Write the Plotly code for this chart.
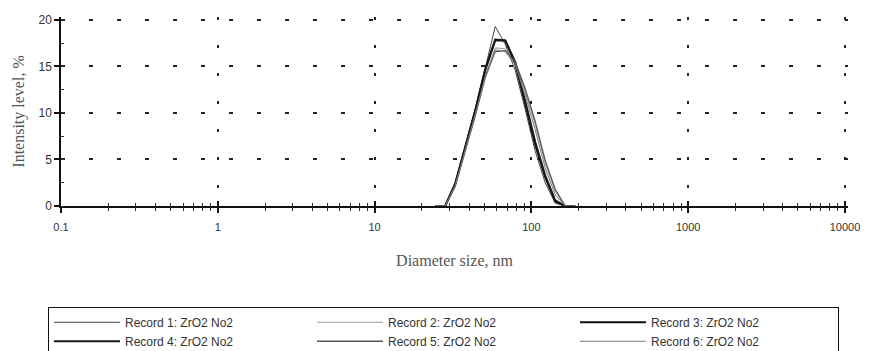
import plotly.graph_objects as go

# Size bins (nm) of the Zetasizer distribution around the peak
sizes = [24.36, 28.21, 32.67, 37.84, 43.82, 50.75, 58.77, 68.06, 78.82,
         91.28, 105.7, 122.4, 141.8, 164.2, 190.1]

# Intensity (%) for each record
record1 = [0, 0, 2.4, 6.5, 10.3, 14.8, 19.3, 17.4, 14.6, 10.4, 5.9, 2.5, 0.3, 0, 0]
record2 = [0, 0, 2.2, 6.1, 9.9, 14.0, 17.0, 16.9, 15.4, 12.3, 8.8, 4.6, 1.6, 0, 0]
record3 = [0, 0, 2.4, 6.4, 10.3, 14.7, 17.9, 17.8, 15.3, 11.0, 6.6, 3.1, 0.5, 0, 0]
record4 = [0, 0, 2.4, 6.3, 10.2, 14.6, 17.8, 17.8, 15.5, 11.3, 6.9, 3.3, 0.6, 0, 0]
record5 = [0, 0, 2.1, 5.9, 9.7, 13.8, 16.6, 16.7, 15.5, 12.6, 9.1, 4.9, 1.8, 0, 0]
record6 = [0, 0, 2.2, 6.0, 9.8, 13.9, 16.8, 16.6, 15.2, 11.9, 8.2, 4.1, 1.2, 0, 0]

names = ["Record 1: ZrO2 No2", "Record 2: ZrO2 No2", "Record 3: ZrO2 No2",
         "Record 4: ZrO2 No2", "Record 5: ZrO2 No2", "Record 6: ZrO2 No2"]
series = [record1, record2, record3, record4, record5, record6]

x_tickvals = [0.1, 1, 10, 100, 1000, 10000]
x_ticktext = ["0.1", "1", "10", "100", "1000", "10000"]
y_tickvals = [0, 5, 10, 15, 20]

colors = ["#444444", "#9a9a9a", "#111111", "#1a1a1a", "#555555", "#7a7a7a"]
widths = [1, 1, 2, 2, 1.3, 1]

fig = go.Figure()
for n, s, c, w in zip(names, series, colors, widths):
    fig.add_trace(go.Scatter(x=sizes, y=s, mode="lines", name=n,
                             line=dict(color=c, width=w)))

# empty helper trace so the overlaid tick axis (crossing ticks) is rendered
fig.add_trace(go.Scatter(x=[None], y=[None], xaxis="x2", yaxis="y",
                         showlegend=False, hoverinfo="skip", mode="lines"))

minor_x = [m * d for d in [0.1, 1, 10, 100, 1000] for m in range(2, 10)]

tick_font = dict(family="Liberation Sans, Arial, sans-serif", size=11, color="#333333")
title_font = dict(family="Liberation Serif, Times New Roman, serif", size=16, color="#555555")

fig.update_layout(
    width=872, height=351,
    margin=dict(l=61, r=19, t=17, b=145),
    paper_bgcolor="white", plot_bgcolor="white",
    showlegend=True,
    legend=dict(
        orientation="h",
        xref="container", yref="container",
        x=0.055, y=0.126, xanchor="left", yanchor="top",
        bordercolor="#111111", borderwidth=1, bgcolor="white",
        font=dict(family="Liberation Sans, Arial, sans-serif", size=12, color="#333333"),
        itemwidth=66,
        entrywidth=182, entrywidthmode="pixels",
        traceorder="normal",
        tracegroupgap=0,
    ),
    xaxis=dict(
        type="log", range=[-1, 4.019],
        tickmode="array", tickvals=x_tickvals, ticktext=x_ticktext,
        ticks="outside", ticklen=5, tickwidth=1.5, tickcolor="#111111",
        ticklabelstandoff=5,
        showline=True, linecolor="#111111", linewidth=1.5,
        showgrid=True, gridcolor="#222222", gridwidth=1.5, griddash="3px,25px",
        zeroline=False,
        minor=dict(tickmode="array", tickvals=minor_x, ticks="outside", ticklen=3,
                   tickwidth=1, tickcolor="#333333", showgrid=False),
        tickfont=tick_font,
        title=dict(text="Diameter size, nm", font=title_font, standoff=23),
    ),
    yaxis=dict(
        range=[0, 20.32],
        tickmode="array", tickvals=y_tickvals,
        ticks="outside", ticklen=5, tickwidth=1.5, tickcolor="#111111",
        showline=True, linecolor="#111111", linewidth=1.5,
        showgrid=True, gridcolor="#222222", gridwidth=1.5, griddash="4px,24px",
        zeroline=False,
        minor=dict(dtick=2.5, ticks="inside", ticklen=3, tickwidth=1,
                   tickcolor="#333333", showgrid=False),
        tickfont=dict(family="Liberation Sans, Arial, sans-serif", size=12, color="#333333"),
        title=dict(text="Intensity level, %", font=title_font, standoff=10),
    ),
    xaxis2=dict(
        type="log", range=[-1, 4.019], overlaying="x", anchor="y", side="bottom",
        tickmode="array", tickvals=x_tickvals, showticklabels=False,
        ticks="inside", ticklen=5, tickwidth=1.5, tickcolor="#111111",
        showgrid=False, zeroline=False, showline=False,
        minor=dict(tickmode="array", tickvals=minor_x, ticks="inside", ticklen=3,
                   tickwidth=1, tickcolor="#333333", showgrid=False),
    ),
)

fig.write_html("out.html")
